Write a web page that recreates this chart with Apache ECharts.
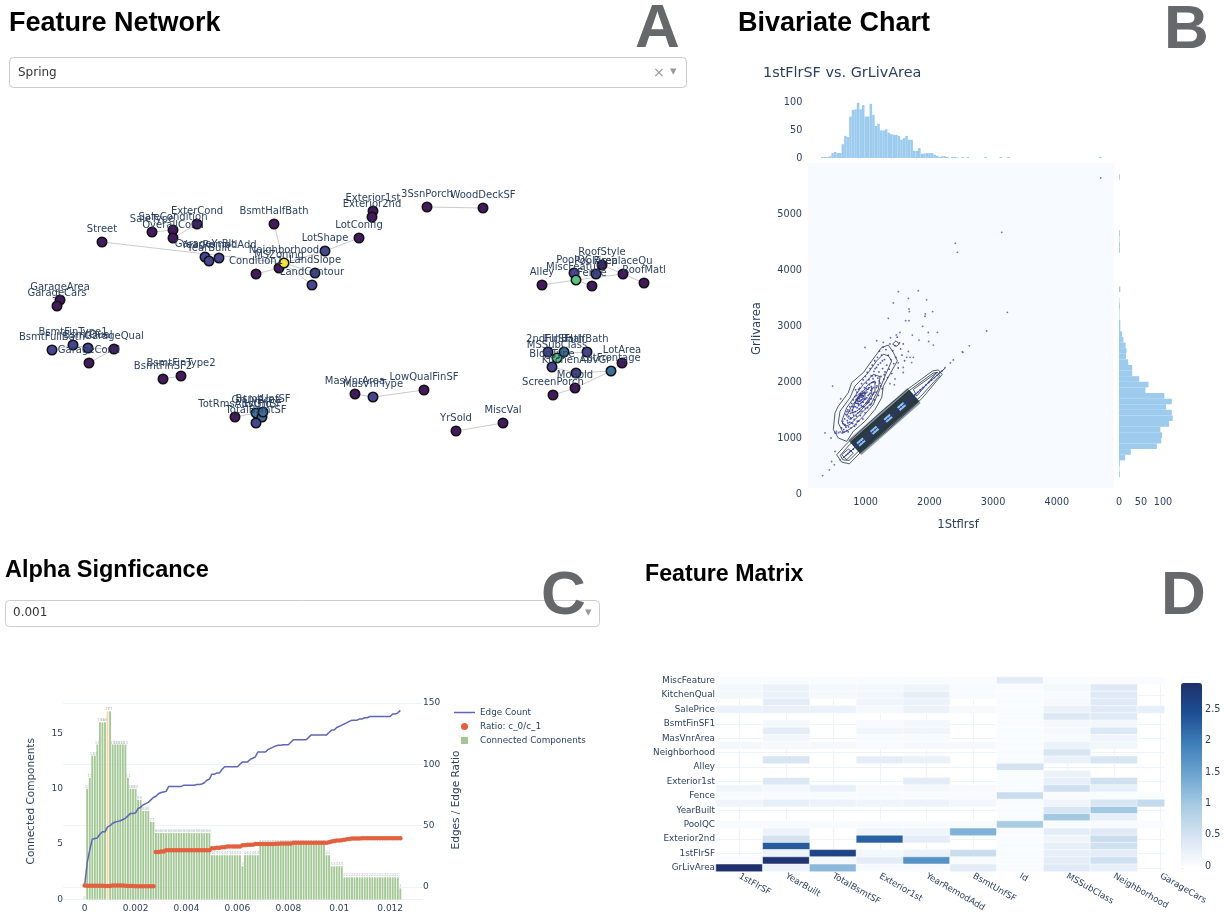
<!DOCTYPE html>
<html><head><meta charset="utf-8">
<style>html,body{margin:0;padding:0;background:#fff}#c{width:1225px;height:914px}</style>
<script src="https://cdn.jsdelivr.net/npm/echarts@6/dist/echarts.min.js"></script>
</head><body><div id="c"></div>
<script>
// ---------- A: feature network ----------
const nodeNames=['Street','SaleType','SaleCondition','OverallCond','ExterCond','GarageYrBlt','YearBuilt','YearRemodAdd','BsmtHalfBath','Condition1','MSZoning','Neighborhood','LandContour','LandSlope','LotShape','LotConfig','Exterior1st','Exterior2nd','3SsnPorch','WoodDeckSF','GarageArea','GarageCars','BsmtFullBath','BsmtFinType1','BsmtQual','GarageQual','GarageCond','BsmtFinType2','BsmtFinSF2','TotRmsAbvGrd','GrLivArea','1stFlrSF','TotalBsmtSF','BsmtUnfSF','MasVnrArea','MasVnrType','LowQualFinSF','YrSold','MiscVal','Alley','PoolQC','MiscFeature','Fence','RoofStyle','PoolArea','FireplaceQu','RoofMatl','2ndFlrSF','FullBath','HalfBath','MSSubClass','BldgType','KitchenAbvGr','LotArea','LotFrontage','MoSold','ScreenPorch'];
const nodeX=[102,152,173,173,197,205,209,219,274,256,279,284,312,315,325,359,373,372,427,483,60,57,52,73,88,114,89,181,163,235,256,262,256,263,355,373,424,456,503,542,574,576,592,602,596,623,644,548,564,587,557,552,576,622,611,575,553];
const nodeY=[242,232,230,238,224,257,261,258,224,274,268,263,285,273,251,238,211,217,207,208,300,306,350,345,348,349,363,376,379,417,413,417,423,412,394,397,390,431,423,285,273,280,286,265,274,274,283,352,352,352,358,367,373,363,371,388,395];
const nodeLevel=[0,0,0,0,0,1,1,1,0,0,0,4,1,1,1,0,0,0,0,0,0,0,1,1,1,0,0,0,0,0,2,2,1,2,0,1,0,0,0,0,1,3,0,0,1,0,0,1,2,1,3,1,1,0,2,0,0];
const edgePairs=[['Street','Neighborhood'],['BsmtHalfBath','Neighborhood'],['Condition1','MSZoning'],['MSZoning','Neighborhood'],['Neighborhood','LandContour'],['Neighborhood','LandSlope'],['Neighborhood','LotShape'],['LotShape','LotConfig'],['SaleType','SaleCondition'],['OverallCond','ExterCond'],['SaleCondition','OverallCond'],['Exterior1st','Exterior2nd'],['3SsnPorch','WoodDeckSF'],['GarageArea','GarageCars'],['BsmtFullBath','BsmtFinType1'],['BsmtFinType1','BsmtQual'],['BsmtQual','GarageQual'],['GarageQual','GarageCond'],['BsmtFinType2','BsmtFinSF2'],['TotRmsAbvGrd','GrLivArea'],['GrLivArea','1stFlrSF'],['1stFlrSF','TotalBsmtSF'],['MasVnrArea','MasVnrType'],['MasVnrType','LowQualFinSF'],['YrSold','MiscVal'],['Alley','MiscFeature'],['MiscFeature','PoolQC'],['MiscFeature','Fence'],['MiscFeature','FireplaceQu'],['PoolArea','RoofStyle'],['RoofStyle','RoofMatl'],['2ndFlrSF','MSSubClass'],['FullBath','MSSubClass'],['FullBath','HalfBath'],['MSSubClass','BldgType'],['BldgType','KitchenAbvGr'],['LotFrontage','LotArea'],['LotFrontage','MoSold'],['MoSold','ScreenPorch'],['KitchenAbvGr','LotFrontage']];
const levelColors=['#431a5c','#45468f','#3a7099','#5bbf80','#f2e33a'];

// ---------- B: bivariate ----------
const hist1stFlr=[0,0,0,0,0,0,0,2,2,2,3,9,11,9,9,25,40,38,75,87,88,100,88,96,75,75,98,78,58,62,50,50,52,46,43,42,42,40,33,36,40,33,33,13,13,18,8,8,9,9,9,6,4,2,3,3,2,0,2,2,1,0,2,0,2,0,0,0,0,0,0,2,0,0,0,0,0,2,0,0,2,0,0,0,0,0,0,0,0,0,0,0,0,0,0,0,0,0,0,0,0,0,0,0,0,0,0,0,0,0,0,0,0,0,0,0,2,0,0,0,0,0];
const histGrLiv=[0,0,0,2,1,2,14,27,86,96,98,94,114,122,120,107,120,103,60,67,46,30,30,21,16,17,15,10,7,3,3,1,1,2,1,0,3,0,0,0,0,0,0,2,2,1,2,0,0,0,0,0,0,0,0,0,2,0,0];
const hist1stBins=hist1stFlr.map((v,i)=>String(20+40*i));
const histGrBins=histGrLiv.map((v,i)=>String(100*i));
const contourDiagOuter=[[544,700],[701,898],[1224,1449],[1669,1880],[2051,2198],[2140,2216],[2203,2138],[1879,1701],[1381,1180],[910,731],[743,539],[623,569],[544,700]];
const contourDiagMiddle=[[600,690],[745,880],[1250,1400],[1700,1860],[2060,2160],[2130,2170],[2160,2110],[1860,1740],[1360,1230],[900,780],[740,600],[640,610],[600,690]];
const contourDiagLow=[[623,700],[727,802],[806,731],[701,611],[623,700]];
const contourDiagHigh=[[1748,1868],[2114,2168],[2140,2138],[1800,1749],[1748,1868]];
const contourCluster1=[[492,1150],[518,1449],[570,1569],[727,1808],[780,1988],[963,2168],[1094,2377],[1251,2617],[1355,2659],[1434,2527],[1497,2377],[1408,2198],[1277,1928],[1251,1719],[1146,1509],[989,1299],[806,1120],[701,940],[570,1000],[492,1150]];
const contourCluster2=[[570,1269],[597,1479],[754,1719],[832,1928],[1041,2168],[1172,2377],[1277,2497],[1355,2467],[1408,2377],[1303,2108],[1198,1808],[1120,1599],[963,1389],[780,1180],[649,1090],[570,1269]];
const contourCluster3=[[623,1299],[701,1539],[832,1749],[963,1958],[1120,2138],[1225,2096],[1198,1868],[1094,1629],[937,1449],[754,1240],[675,1210],[623,1299]];
const contourCluster4=[[701,1389],[780,1569],[884,1719],[1041,1958],[1146,2018],[1146,1838],[1041,1629],[884,1449],[754,1329],[701,1389]];
const contourCluster5=[[780,1449],[832,1629],[963,1808],[1094,1928],[1094,1778],[989,1599],[858,1479],[780,1449]];
const contourCluster6=[[832,1629],[884,1749],[989,1820],[989,1689],[900,1599],[832,1629]];
const contourCluster7=[[858,1689],[911,1760],[963,1760],[952,1689],[884,1641],[858,1689]];
const contourCluster8=[[1423,2677],[1476,2737],[1528,2677],[1476,2635],[1423,2677]];
const contourList=[contourDiagOuter,contourDiagMiddle,contourDiagLow,contourDiagHigh,contourCluster1,contourCluster2,contourCluster3,contourCluster4,contourCluster5,contourCluster6,contourCluster7,contourCluster8];
const bandCore=[[830,830],[1760,1760]];
const bandDashes=[[880,880],[1700,1700]];
const diagonalPairs=[[640,640],[2250,2250]];
const outlierPoints=[[4689,5643],[3135,4673],[2407,4476],[2439,4316],[1512,3613],[1669,3494],[1826,3631],[3224,3245],[2899,2911],[2627,2647],[2517,2539],[2525,2530],[2376,2395],[2330,2340],[2245,2258],[1434,3413],[1680,3305],[1685,3258],[1936,3216],[2051,3258],[1957,3467],[1931,3174],[1355,3138],[1627,3096],[1680,3096],[1894,2994],[1983,2886],[2125,2886],[1732,2838],[1538,2886],[1480,2840],[1837,2749],[1989,2725],[2062,2659],[1172,2737],[989,2617],[1277,2707],[1390,2790],[1669,2545],[1643,2440],[1695,2440],[1748,2440],[1722,2347],[1590,2260],[1512,2340],[1590,2170],[1460,2055],[1381,1970],[1450,1950],[481,1928],[607,1701],[361,1090],[518,1090],[540,1120],[324,329],[429,431],[508,521],[465,580],[518,760],[597,611],[540,1085],[575,1095],[600,1110],[455,1000],[640,1300]];
const clusterPoints=[[620,1180],[640,1260],[655,1150],[670,1340],[680,1230],[690,1420],[700,1130],[712,1310],[720,1500],[730,1200],[735,1390],[745,1280],[750,1560],[760,1440],[770,1180],[775,1350],[780,1620],[790,1500],[795,1260],[805,1680],[810,1410],[815,1560],[820,1330],[830,1740],[835,1470],[840,1630],[850,1240],[855,1390],[860,1820],[865,1540],[870,1700],[880,1450],[885,1610],[890,1300],[895,1780],[900,1520],[905,1890],[910,1660],[915,1400],[925,1730],[930,1580],[935,1970],[940,1480],[945,1830],[950,1650],[955,1340],[960,2040],[965,1750],[970,1560],[980,1900],[985,1690],[990,1450],[995,2100],[1000,1800],[1005,1620],[1012,1980],[1018,1720],[1025,2170],[1030,1540],[1035,1870],[1040,1660],[1050,2040],[1055,1780],[1060,1950],[1068,2240],[1072,1590],[1080,1850],[1085,2110],[1090,1700],[1096,1990],[1104,2300],[1110,1780],[1115,2060],[1122,1900],[1130,2190],[1136,1680],[1142,2380],[1150,1990],[1155,2110],[1162,1820],[1170,2260],[1178,1930],[1185,2440],[1192,2070],[1200,1760],[1208,2180],[1216,2550],[1224,1980],[1232,2340],[1240,2100],[1250,2480],[1258,1880],[1265,2240],[1275,2620],[1285,2050],[1295,2400],[1305,2180],[1318,2580],[1330,2300],[1342,2080],[1355,2480],[1368,2230],[1380,2680],[1395,2400],[1410,2150],[1425,2560],[1440,2330],[1458,2650],[1475,2440],[1495,2800],[1510,2250],[1530,2700],[1548,2590],[1570,2480],[1590,2680],[1610,2380],[850,1690],[870,1620],[890,1720],[910,1790],[930,1680],[950,1760],[970,1700],[890,1580],[920,1620],[940,1730],[900,1700],[880,1660],[860,1760],[1000,1700],[1020,1820],[1040,1760],[960,1640],[840,1560],[800,1450],[760,1360],[720,1270],[690,1190],[660,1110],[1050,1640],[1100,1880],[1120,2000],[1070,1800],[630,1090],[665,1240],[705,1470],[725,1110],[748,1480],[772,1270],[798,1560],[826,1210],[842,1860],[868,1300],[888,1870],[908,1470],[922,1800],[948,1560],[978,1790],[996,1530],[1008,1880],[1028,1630],[1046,1900],[1064,1700],[1092,1610],[1106,2110],[1128,1810],[1148,2240],[1168,1900],[1196,2310],[1212,2020],[1236,1930],[1262,2380],[1292,2130]];
const diagonalPoints=[[690,690],[720,720],[745,748],[770,770],[805,800],[835,840],[860,862],[900,900],[930,930],[965,960],[1000,1000],[1040,1040],[1075,1078],[1110,1110],[1150,1150],[1195,1190],[1230,1232],[1270,1270],[1310,1310],[1350,1352],[1395,1395],[1430,1430],[1475,1470],[1510,1510],[1555,1555],[1600,1600],[1640,1642],[1685,1685],[1730,1730],[1770,1770],[1815,1815],[1855,1860],[1900,1900],[1945,1945],[1990,1992],[2035,2035],[2080,2080],[2120,2120],[2165,2168],[2200,2200]];

// ---------- C: alpha significance ----------
const alphaLabels=['0','0.002','0.004','0.006','0.008','0.01','0.012'];
const alphaCategories=['-0.0008','-0.0007','-0.0006','-0.0005','-0.0004','-0.0003','-0.0002','-0.0001','0','0.0001','0.0002','0.0003','0.0004','0.0005','0.0006','0.0007','0.0008','0.0009','0.001','0.0011','0.0012','0.0013','0.0014','0.0015','0.0016','0.0017','0.0018','0.0019','0.002','0.0021','0.0022','0.0023','0.0024','0.0025','0.0026','0.0027','0.0028','0.0029','0.003','0.0031','0.0032','0.0033','0.0034','0.0035','0.0036','0.0037','0.0038','0.0039','0.004','0.0041','0.0042','0.0043','0.0044','0.0045','0.0046','0.0047','0.0048','0.0049','0.005','0.0051','0.0052','0.0053','0.0054','0.0055','0.0056','0.0057','0.0058','0.0059','0.006','0.0061','0.0062','0.0063','0.0064','0.0065','0.0066','0.0067','0.0068','0.0069','0.007','0.0071','0.0072','0.0073','0.0074','0.0075','0.0076','0.0077','0.0078','0.0079','0.008','0.0081','0.0082','0.0083','0.0084','0.0085','0.0086','0.0087','0.0088','0.0089','0.009','0.0091','0.0092','0.0093','0.0094','0.0095','0.0096','0.0097','0.0098','0.0099','0.01','0.0101','0.0102','0.0103','0.0104','0.0105','0.0106','0.0107','0.0108','0.0109','0.011','0.0111','0.0112','0.0113','0.0114','0.0115','0.0116','0.0117','0.0118','0.0119','0.012','0.0121','0.0122','0.0123','0.0124','0.0125','0.0126','0.0127','0.0128','0.0129','0.013','0.0131','0.0132'];
const componentCounts=[0,10,11,13,13,14,16,16,16,17,17,14,14,14,14,14,14,11,10,10,10,9,9,8,8,8,7,7,6,6,6,6,6,6,6,6,6,6,6,6,6,6,6,6,6,6,6,6,6,6,4,4,4,4,4,4,4,4,4,4,4,4,3,4,4,4,4,4,4,5,5,5,5,5,5,5,5,5,5,5,5,5,5,5,5,5,5,5,5,5,5,5,5,5,5,4,4,3,3,3,3,3,2,2,2,2,2,2,2,2,2,2,2,2,2,2,2,2,2,2,2,2,2,2,1];
const edgeCounts=[1,20,30,39,39.5,40,43,45,45,49,50,52,53,53.5,54,55,56,58,60,60,60.5,64,65,67,68,69,71,73,74,76,77,77.5,78,82,82,82,82,82,82,83,83,83,83,83,83.5,83.5,84,85,87,88,92,92,93,93,96,98,98,98,98,98,98,100,102,102,102,104,105,106,110,110,110,110,112,113,114,115,115.5,115.5,116,116,116,118,120,120,120,120,120,120,122,124,124,124,124,124,124,124,126,128,128,130,131,132,133,134,135,136,136,136,137,137,138,138,139,139,139,139,139,139,139,139,139,141,141,142,144];
const ratioValues=[1.2,1.1,1.1,1,1,1,1,1,0.9,0.9,0.9,1.2,1.2,1.2,1.2,1.2,1,0.8,0.8,0.8,0.7,0.7,0.7,0.6,0.6,0.6,0.6,0.6,28.5,28.5,29,29,30,30,30,30,30,30,30,30,30,30,30,30,30,30,30,30,30,30,31.5,31.5,32,32,32.5,32.5,33,33,33,33,33,33,34,34,34.5,34.5,34.5,35,35,35,35,35,35,35,35,35.2,35.2,35.5,35.5,35.5,35.5,35.5,36,36,36,36,36,36,36,36,36,36,36,36,36,36,36.5,37,37.5,38,38,38.2,38.5,39,39.2,39.5,39.5,39.5,39.5,39.7,39.7,39.7,39.7,39.7,39.7,39.7,39.7,39.7,39.7,39.7,39.7,39.7,39.7,39.7,39.7,39.7,39.7];
const selectedAlpha='0.0009';
const firstAlphaIndex=8;

// ---------- D: feature matrix ----------
const matrixCols=['1stFlrSF','YearBuilt','TotalBsmtSF','Exterior1st','YearRemodAdd','BsmtUnfSF','Id','MSSubClass','Neighborhood','GarageCars'];
const matrixRows=['MiscFeature','','KitchenQual','','SalePrice','','BsmtFinSF1','','MasVnrArea','','Neighborhood','','Alley','','Exterior1st','','Fence','','YearBuilt','','PoolQC','','Exterior2nd','','1stFlrSF','','GrLivArea'];
const _=null;
const matrixValues=[
[.03,.03,.03,.03,.03,.03,.3,.03,.03,.03],
[.1,.2,.1,.1,.15,.05,.02,.1,.35,_],
[.1,.2,.08,.12,.25,.05,.02,.05,.35,_],
[_,.3,_,.15,.2,_,.02,.08,.35,_],
[.2,.25,.2,.08,.2,.06,.02,.2,.35,.25],
[_,_,_,_,_,_,.02,.4,.35,_],
[_,.1,_,.07,.1,_,.02,.1,.1,_],
[_,.3,_,.13,.15,_,.02,.08,.4,_],
[_,.12,_,.05,.06,_,.02,.05,.15,_],
[.1,.06,.08,.05,.08,.08,.02,.2,.12,_],
[_,_,_,_,_,_,.02,.45,_,_],
[_,.45,_,.28,.2,_,.02,.2,.45,_],
[_,_,_,_,_,_,.5,_,_,_],
[_,_,_,_,_,_,.02,.2,_,_],
[_,.4,_,_,.3,_,.02,.25,.55,_],
[.15,.1,.25,.06,.1,.06,.02,.55,.25,_],
[.04,.05,.04,.04,.04,.05,.6,.02,.02,.02],
[.15,.25,.2,.15,.2,.13,.02,.15,.45,.65],
[_,_,_,_,_,_,.02,.45,1,_],
[_,_,_,_,_,_,.02,1,.25,_],
[.05,.05,.04,.04,.04,.04,.95,.02,.05,.03],
[_,.2,_,.15,.15,1.3,.02,.3,.35,_],
[_,.5,_,2.25,.3,_,.02,.15,.6,_],
[_,2.3,_,_,_,_,.02,.25,.55,_],
[_,.15,2.6,.1,.2,.6,.02,.25,.3,_],
[.03,2.85,.1,.3,1.7,.05,.02,.3,.55,_],
[2.9,.2,1.2,.05,.05,.3,.02,.35,.25,_]];
const matrixScale=['#fbfdff','#d5e3f2','#a6cbe3','#6ea4d0','#3f7fb9','#1d4f94','#1f2f6b'];

// ---------- texts ----------
const panelTitles=[['Feature Network',9,24,27],['Bivariate Chart',738,24,27],['Alpha Signficance',5,571,23.5],['Feature Matrix',645,575,23.2]];
const panelLetters=[['A',635,30],['B',1164,31],['C',541,596.5],['D',1161,596.5]];

const ink='#2a3f5f', FF='"DejaVu Sans",sans-serif', TITLE='"Liberation Sans",Arial,sans-serif';
const gridLine='#eef2f9';

// ---------- graph data ----------
const graphNodes=nodeNames.map((n,i)=>({name:n,value:[nodeX[i],nodeY[i]],itemStyle:{color:levelColors[nodeLevel[i]]}}));
const graphLinks=edgePairs.map(p=>({source:p[0],target:p[1]}));
const heatData=[];
matrixValues.forEach((row,r)=>row.forEach((v,c)=>{if(v!==null)heatData.push([c,matrixRows.length-1-r,v]);}));
const alphaValues=componentCounts.map((v,i)=>alphaCategories[i+firstAlphaIndex]);

const contourSeries=contourList.map((pts,i)=>({type:'line',name:'contour'+i,xAxisIndex:1,yAxisIndex:1,data:pts,symbol:'none',silent:true,animation:false,lineStyle:{color:'#26313b',width:.8},z:3}));

const option={
 animation:false,backgroundColor:'#fff',
 textStyle:{fontFamily:FF,color:ink},
 grid:[
  {left:0,top:100,width:700,height:400,show:false},           //0 network
  {left:802,top:163,width:312,height:331},                    //1 main biv
  {left:803.3,top:100,width:311,height:58},                   //2 top hist
  {left:1119,top:163,width:55,height:331},                    //3 right hist
  {left:63,top:703,width:359,height:196.5},                   //4 bars
  {left:63,top:703,width:359,height:184},                     //5 lines
  {left:716,top:677,width:468,height:196},                    //6 heat
  {left:1181,top:683,width:21,height:183}                     //7 colorbar
 ],
 xAxis:[
  {gridIndex:0,type:'value',min:0,max:700,show:false},
  {gridIndex:1,type:'value',min:0,max:4898,interval:1000,name:'1Stflrsf',nameLocation:'middle',nameGap:25,nameTextStyle:{fontSize:11.6,color:ink,fontFamily:FF},axisLine:{show:false},axisTick:{show:false},splitLine:{show:false},axisLabel:{margin:3,fontSize:9.7,color:ink,fontFamily:FF,showMaxLabel:false,formatter:v=>v===0?'':String(v)}},
  {gridIndex:2,type:'category',data:hist1stBins,show:false},
  {gridIndex:3,type:'value',min:0,max:125,interval:50,axisLine:{show:false},axisTick:{show:false},splitLine:{show:false},axisLabel:{margin:3,fontSize:9.7,color:ink,fontFamily:FF,showMaxLabel:false}},
  {gridIndex:4,type:'category',data:alphaCategories,axisLine:{lineStyle:{color:gridLine}},axisTick:{show:false},splitLine:{show:false},axisLabel:{margin:5,fontSize:9,color:ink,fontFamily:FF,interval:(i,v)=>alphaLabels.includes(v)}},
  {gridIndex:5,type:'category',data:alphaCategories,show:false},
  {gridIndex:6,type:'category',data:matrixCols,axisLine:{show:false},axisTick:{show:false},splitLine:{show:true,alignWithLabel:true,interval:0,lineStyle:{color:gridLine}},axisLabel:{interval:0,rotate:-30,margin:4,fontSize:8.8,color:ink,fontFamily:FF}},
  {gridIndex:7,type:'value',show:false,min:0,max:1}
 ],
 yAxis:[
  {gridIndex:0,type:'value',min:100,max:500,inverse:true,show:false},
  {gridIndex:1,type:'value',min:0,max:5911,interval:1000,name:'Grlivarea',nameLocation:'middle',nameGap:39,nameTextStyle:{fontSize:11.6,color:ink,fontFamily:FF},axisLine:{show:false},axisTick:{show:false},splitLine:{show:false},axisLabel:{margin:0,fontSize:9.7,color:ink,fontFamily:FF,showMaxLabel:false,formatter:v=>String(v)}},
  {gridIndex:2,type:'value',min:0,max:105,interval:50,axisLine:{show:false},axisTick:{show:false},splitLine:{show:false},axisLabel:{margin:1,fontSize:9.7,color:ink,fontFamily:FF,showMaxLabel:false}},
  {gridIndex:3,type:'category',data:histGrBins,show:false},
  {gridIndex:4,type:'value',min:0,max:17.75,interval:5,name:'Connected Components',nameLocation:'middle',nameGap:26,nameTextStyle:{fontSize:10.5,color:ink,fontFamily:FF},axisLine:{show:false},axisTick:{show:false},splitLine:{show:false},axisLabel:{margin:0,fontSize:9,color:ink,fontFamily:FF,showMaxLabel:false}},
  {gridIndex:5,type:'value',position:'right',min:0,max:150,interval:50,name:'Edges / Edge Ratio',nameLocation:'middle',nameRotate:90,nameGap:29,nameTextStyle:{fontSize:10.5,color:ink,fontFamily:FF,padding:[0,10,0,0]},axisLine:{show:false},axisTick:{show:false},splitLine:{show:true,lineStyle:{color:gridLine}},axisLabel:{margin:1,fontSize:9,color:ink,fontFamily:FF}},
  {gridIndex:6,type:'category',data:matrixRows.slice().reverse(),axisLine:{show:false},axisTick:{show:false},splitLine:{show:true,alignWithLabel:true,interval:1,lineStyle:{color:gridLine}},axisLabel:{interval:0,margin:1,fontSize:8.8,color:ink,fontFamily:FF}},
  {gridIndex:7,type:'value',position:'right',min:0,max:2.92,interval:.5,axisLine:{show:false},axisTick:{show:false},splitLine:{show:false},axisLabel:{margin:3,fontSize:9.7,color:ink,fontFamily:FF,showMaxLabel:false,formatter:v=>String(v)}}
 ],
 legend:{orient:'vertical',left:449,top:703,itemGap:5,itemWidth:21,itemHeight:7,textStyle:{fontSize:8.8,color:ink,fontFamily:FF},
  data:[{name:'Edge Count',icon:'path://M0 0h21v1.5h-21z'},{name:'Ratio: c_0/c_1',icon:'circle'},{name:'Connected Components',icon:'path://M0 0h10v10h-10z'}]},
 visualMap:{type:'continuous',seriesIndex:0,min:0,max:2.92,left:1166,top:668,itemWidth:21,itemHeight:183,text:null,calculable:false,showLabel:false,inRange:{color:matrixScale},textStyle:{fontSize:0}},
 series:[
  {type:'heatmap',name:'matrix',xAxisIndex:6,yAxisIndex:6,data:heatData,itemStyle:{borderColor:'#fff',borderWidth:.5},silent:true},
  {type:'graph',name:'network',coordinateSystem:'cartesian2d',xAxisIndex:0,yAxisIndex:0,layout:'none',data:graphNodes,links:graphLinks,symbolSize:9.5,roam:false,
    itemStyle:{borderColor:'#111',borderWidth:1.5,opacity:1},lineStyle:{color:'#bdbdbd',width:.8,opacity:1,curveness:0},
    label:{show:true,position:'top',distance:2,fontSize:10,color:ink,fontFamily:FF}},
  {type:'line',name:'band-edge',xAxisIndex:1,yAxisIndex:1,data:bandCore,symbol:'none',silent:true,lineStyle:{color:'#5d6c76',width:20,opacity:.7},z:3,
    markArea:{silent:true,itemStyle:{color:'#f7fbff'},z:1,data:[[{coord:[94,107]},{coord:[4898,5911]}]]}},
  {type:'line',name:'band',xAxisIndex:1,yAxisIndex:1,data:bandCore,symbol:'none',silent:true,lineStyle:{color:'#2c3a44',width:15},z:3},
  ...contourSeries,
  {type:'line',name:'band-dash',xAxisIndex:1,yAxisIndex:1,data:bandDashes,symbol:'none',silent:true,lineStyle:{color:'#8cc4ec',width:5,type:[8,10]},z:4},
  {type:'line',name:'diagonal',xAxisIndex:1,yAxisIndex:1,data:diagonalPairs,symbol:'none',silent:true,lineStyle:{color:'#2d33a0',width:1},z:5},
  {type:'scatter',name:'cluster',xAxisIndex:1,yAxisIndex:1,data:clusterPoints,symbolSize:1.8,itemStyle:{color:'#3434ad',opacity:.85},silent:true,z:5},
  {type:'scatter',name:'diagonal points',xAxisIndex:1,yAxisIndex:1,data:diagonalPoints,symbolSize:1.7,itemStyle:{color:'#2d33a0',opacity:.9},silent:true,z:5},
  {type:'scatter',name:'outliers',xAxisIndex:1,yAxisIndex:1,data:outlierPoints,symbolSize:1.8,itemStyle:{color:'#4a4ab5',opacity:.8},silent:true,z:5},
  {type:'bar',name:'1stFlrSF histogram',xAxisIndex:2,yAxisIndex:2,data:hist1stFlr,barCategoryGap:'0%',itemStyle:{color:'#9ccbee'},silent:true},
  {type:'bar',name:'GrLivArea histogram',xAxisIndex:3,yAxisIndex:3,data:histGrLiv,barCategoryGap:'0%',itemStyle:{color:'#9ccbee'},silent:true},
  {type:'bar',name:'Connected Components',xAxisIndex:4,yAxisIndex:4,barWidth:'72%',silent:true,
    data:componentCounts.map((v,i)=>{const a=alphaValues[i];return {value:[a,v],itemStyle:{color:a===selectedAlpha?'#fbd6a6':'#a3c795'}};}),
    label:{show:true,position:'top',distance:0,fontSize:4,color:'#b5bec8',fontFamily:FF,formatter:p=>String(p.value[1])},
    itemStyle:{color:'#a3c795'}},
  {type:'line',name:'Edge Count',xAxisIndex:5,yAxisIndex:5,data:edgeCounts.map((v,i)=>[alphaValues[i],v]),symbol:'none',lineStyle:{color:'#5c66b5',width:1.5},itemStyle:{color:'#5c66b5'},silent:true,z:4},
  {type:'scatter',name:'Ratio: c_0/c_1',xAxisIndex:5,yAxisIndex:5,data:ratioValues.map((v,i)=>[alphaValues[i],v]),symbolSize:4.5,itemStyle:{color:'#e2603f',opacity:1},silent:true,z:5},
  {type:'bar',name:'colorbar-axis',xAxisIndex:7,yAxisIndex:7,data:[],silent:true}
 ],
 graphic:[
  ...panelTitles.map(t=>({type:'text',z:100,style:{text:t[0],x:t[1],y:t[2],fill:'#000',font:'bold '+t[3]+'px '+TITLE,textVerticalAlign:'middle'}})),
  {type:'rect',z:60,shape:{x:9.5,y:57.5,width:677,height:30,r:4},style:{fill:'#fff',stroke:'#ccc',lineWidth:1}},
  {type:'text',z:61,style:{text:'Spring',x:18,y:73,fill:'#333',font:'12px '+FF,textVerticalAlign:'middle'}},
  {type:'text',z:61,style:{text:'×',x:653,y:73,fill:'#999',font:'14px '+FF,textVerticalAlign:'middle'}},
  {type:'text',z:61,style:{text:'▾',x:670,y:72,fill:'#999',font:'13px '+FF,textVerticalAlign:'middle'}},
  {type:'rect',z:60,shape:{x:5.5,y:600.5,width:594,height:26,r:4},style:{fill:'#fff',stroke:'#ccc',lineWidth:1}},
  {type:'text',z:61,style:{text:'0.001',x:13,y:613,fill:'#333',font:'12px '+FF,textVerticalAlign:'middle'}},
  {type:'text',z:61,style:{text:'▾',x:585,y:613,fill:'#999',font:'13px '+FF,textVerticalAlign:'middle'}},
  {type:'text',z:61,style:{text:'1stFlrSF vs. GrLivArea',x:763,y:73,fill:ink,font:'14.4px '+FF,textVerticalAlign:'middle'}},
  {type:'rect',z:50,shape:{x:1164.5,y:670,width:16.5,height:204},style:{fill:'#fff'}},
  ...panelLetters.map(t=>({type:'text',z:110,style:{text:t[0],x:t[1],y:t[2],fill:'#67686b',font:'bold 62px '+TITLE,textVerticalAlign:'middle'}}))
 ]
};
const chart=echarts.init(document.getElementById('c'),null,{renderer:'canvas'});
chart.setOption(option);
</script></body></html>
